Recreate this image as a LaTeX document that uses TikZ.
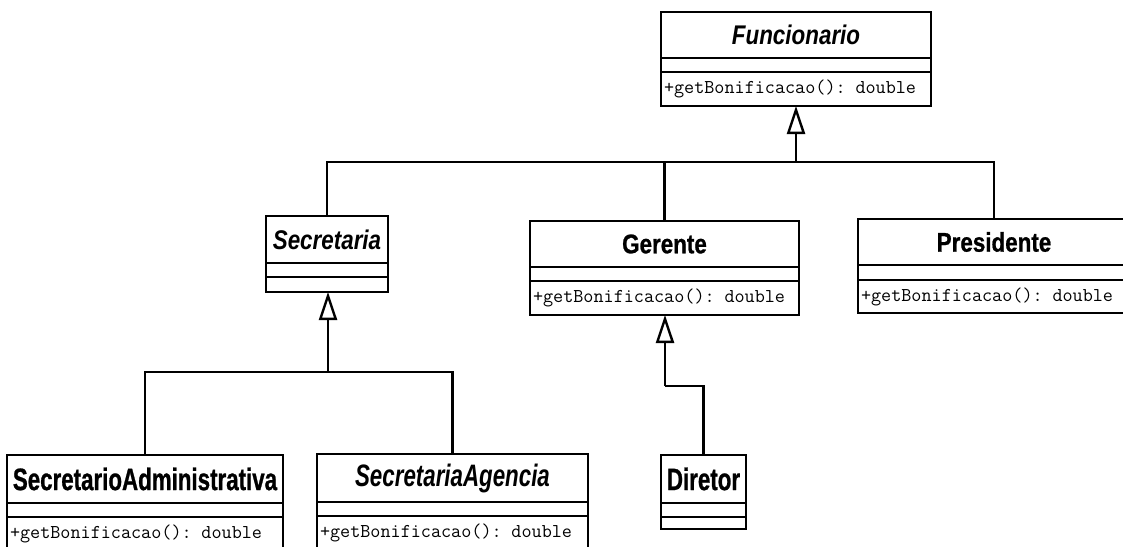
\documentclass[tikz,border=0pt]{standalone}
\usepackage{fontspec}
\usetikzlibrary{arrows.meta,positioning}
\newfontfamily\umlname[FakeStretch=0.83,BoldFeatures={FakeBold=0.8}]{Liberation Sans}
\newfontfamily\umlnamebig[FakeStretch=0.72,BoldFeatures={FakeBold=0.8}]{Liberation Sans}

\begin{document}
\begin{tikzpicture}[x=1pt,y=-1pt,line width=2.4pt,
  every node/.style={draw,outer sep=0pt,inner sep=0pt},
  cname/.style={anchor=north west,minimum height=46pt,font=\umlname\bfseries\fontsize{27}{27}\selectfont},
  cnamebig/.style={anchor=north west,minimum height=48pt,font=\umlnamebig\bfseries\fontsize{31}{31}\selectfont},
  cattr/.style={minimum height=14pt},
  cops/.style={minimum height=34pt,inner xsep=3pt,align=left,font=\ttfamily\fontsize{19.6}{19.6}\selectfont},
  inh/.style={-{Triangle[open,length=28pt,width=18pt]}}]
  \useasboundingbox (0,0) rectangle (1123,546);
  \clip (0,0) rectangle (1123,546);
  \fill[white] (0,0) rectangle (1123,546);

  % top class
  \node[cname,minimum width=270pt] (func) at (661,12) {\itshape Funcionario};
  \node[cattr,minimum width=270pt,below=0pt of func] (funcA) {};
  \node[cops,text width=264pt,below=0pt of funcA] (funcO) {+getBonificacao(): double};

  % second row
  \node[cname,minimum width=122pt,minimum height=47pt] (sec) at (266,216) {\itshape Secretaria};
  \node[cattr,minimum width=122pt,below=0pt of sec] (secA) {};
  \node[cattr,minimum width=122pt,minimum height=15pt,below=0pt of secA] (secO) {};

  \node[cname,minimum width=269pt] (ger) at (530,221) {Gerente};
  \node[cattr,minimum width=269pt,below=0pt of ger] (gerA) {};
  \node[cops,text width=263pt,below=0pt of gerA] (gerO) {+getBonificacao(): double};

  \node[cname,minimum width=272pt] (pres) at (858,219) {Presidente};
  \node[cattr,minimum width=272pt,minimum height=15pt,below=0pt of pres] (presA) {};
  \node[cops,text width=266pt,minimum height=33pt,below=0pt of presA] (presO) {+getBonificacao(): double};

  % bottom row
  \node[cnamebig,minimum width=276pt] (secadm) at (7,455) {SecretarioAdministrativa};
  \node[cattr,minimum width=276pt,below=0pt of secadm] (secadmA) {};
  \node[cops,text width=270pt,below=0pt of secadmA] (secadmO) {+getBonificacao(): double};

  \node[cnamebig,minimum width=271pt] (secag) at (317,454) {\itshape SecretariaAgencia};
  \node[cattr,minimum width=271pt,below=0pt of secag] (secagA) {};
  \node[cops,text width=265pt,below=0pt of secagA] (secagO) {+getBonificacao(): double};

  \node[cnamebig,minimum width=85pt] (dir) at (661,455) {Diretor};
  \node[cattr,minimum width=85pt,below=0pt of dir] (dirA) {};
  \node[cattr,minimum width=85pt,minimum height=12pt,below=0pt of dirA] (dirO) {};

  % generalisations
  \coordinate (jf) at (796,162);
  \coordinate (js) at (328,372);
  \coordinate (jg) at (665,386);
  \draw[inh] (jf) -- (jf |- funcO.south);
  \draw (sec.north) |- (jf);
  \draw (ger.north) |- (jf);
  \draw (pres.north) |- (jf);
  \draw[inh] (js) -- (js |- secO.south);
  \draw (secadm.north) |- (js);
  \draw (secag.north) |- (js);
  \draw[inh] (jg) -- (jg |- gerO.south);
  \draw (dir.north) |- (jg);
\end{tikzpicture}
\end{document}
